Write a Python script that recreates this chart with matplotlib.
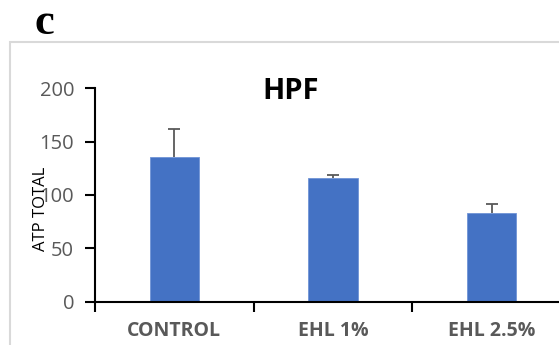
import matplotlib
matplotlib.use("Agg")
import matplotlib.pyplot as plt
from matplotlib.patches import Rectangle

categories = ["CONTROL", "EHL 1%", "EHL 2.5%"]
atp_total = [135.5, 116, 83]
atp_err = [26.5, 2.5, 8.5]

plt.rcParams["font.family"] = ["Open Sans", "DejaVu Sans"]

fig = plt.figure(figsize=(5.59, 3.45), dpi=100)

# light grey frame of the chart area (runs off the right and bottom)
fig.patches.append(Rectangle((10 / 559, -0.1), 1.2, 1 - 42 / 345 + 0.1,
                             transform=fig.transFigure, fill=False,
                             edgecolor="#d9d9d9", linewidth=1.5))

fig.text(34 / 559, 1 - 23 / 345, "c", family="Liberation Serif",
         fontweight="bold", fontsize=32, va="center", ha="left")

ax = fig.add_axes([95 / 559, 43.3 / 345, 476 / 559, 213.5 / 345])
x = range(len(categories))
ax.bar(x, atp_total, width=0.31, color="#4472c4", edgecolor="#6f93d6",
       linewidth=0.6, zorder=2)
eb = ax.errorbar(x, atp_total, yerr=[[0] * 3, atp_err], fmt="none",
                 ecolor="#595959", elinewidth=1.3, capsize=4.5, capthick=1.3,
                 zorder=3)
# upper error only, hide the cap sitting on the bar top
eb[1][0].set_visible(False)

ax.set_xlim(-0.5, 2.5)
ax.set_ylim(0, 200)
ax.set_yticks([0, 50, 100, 150, 200])
ax.set_xticks([-0.5, 0.5, 1.5, 2.5])
ax.set_xticklabels([])
ax.set_xticks(list(x), minor=True)
ax.set_xticklabels(categories, minor=True, fontweight="bold",
                   color="#595959", fontsize=14)
ax.tick_params(axis="x", which="minor", length=0, pad=14)
ax.tick_params(axis="x", which="major", length=7, width=1.5,
               direction="out", color="black")
ax.tick_params(axis="y", length=7, width=1.5, color="black",
               labelcolor="#595959", labelsize=14.5, pad=8)

for s in ["top", "right"]:
    ax.spines[s].set_visible(False)
ax.spines["left"].set_linewidth(1.5)
ax.spines["bottom"].set_linewidth(1.5)

ax.set_title("HPF", fontweight="bold", fontsize=21, x=(291 - 95) / 476,
             y=0.91, color="black")

fig.text(41 / 559, 1 - 208.6 / 345, "ATP TOTAL", rotation=90,
         fontsize=12, va="center", ha="center", color="black")

fig.savefig("out.png", dpi=100)
